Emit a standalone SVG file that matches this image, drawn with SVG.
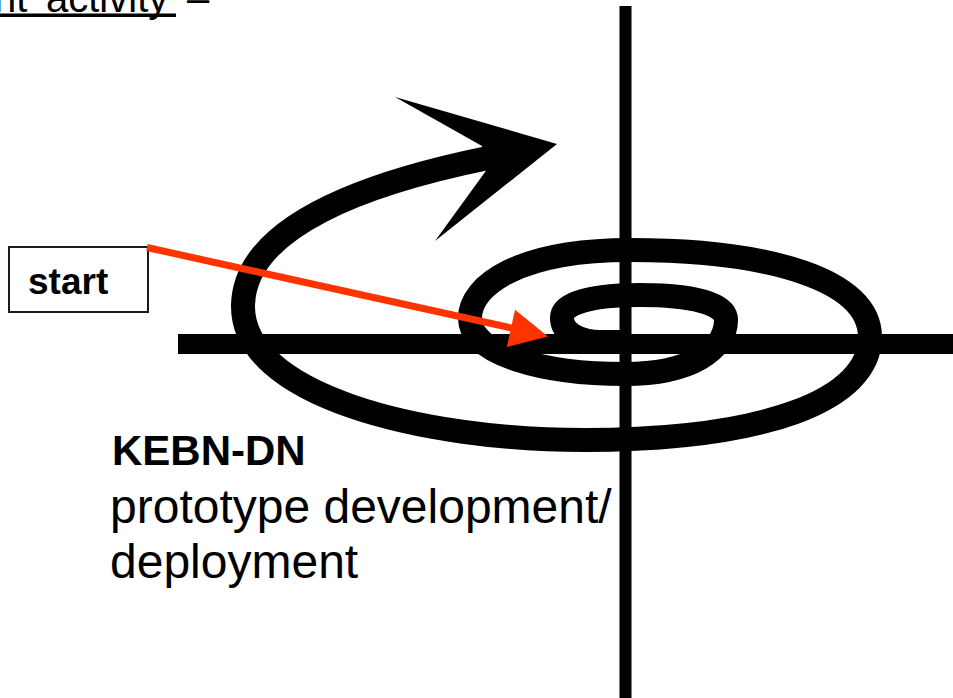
<svg xmlns="http://www.w3.org/2000/svg" width="953" height="698" viewBox="0 0 953 698">
  <style>
    .axis { stroke: #000; fill: none; stroke-linecap: butt; }
    .spiral { stroke: #000; fill: none; stroke-width: 24; stroke-linecap: butt; stroke-linejoin: round; }
    .lbl { font-family: "Liberation Sans", Arial, Helvetica, sans-serif; fill: #000; }
    .bold { font-weight: bold; }
    .box { fill: #fff; stroke: #1a1a1a; stroke-width: 2; }
    .pointer { stroke: #ff3300; stroke-width: 7; fill: none; }
  </style>

  <!-- heading fragment at the top edge -->
  <g id="heading">
    <text class="lbl" font-size="40" y="12"><tspan x="-6">nt</tspan><tspan x="46">activity</tspan><tspan x="187">–</tspan></text>
    <rect x="0" y="13.5" width="176" height="3.5" fill="#000"/>
  </g>

  <!-- quadrant axes -->
  <g id="axes">
    <line class="axis" x1="625.5" y1="6" x2="625.5" y2="698" stroke-width="12"/>
    <line class="axis" x1="178" y1="344" x2="953" y2="344" stroke-width="20"/>
  </g>

  <!-- spiral winding outwards, ending in a broad arrowhead -->
  <g id="spiral">
    <path class="spiral" d="M 488,158
      C 370,182 245,225 243,305
      C 241,395 420,440 585,440
      C 765,440 870,400 870,337
      C 870,280 770,250 630,250
      C 520,250 470,285 470,318
      C 470,355 545,374 625,374
      C 690,374 726,350 726,320
      C 726,303 690,295 640,295
      C 590,295 562,303 562,318
      C 562,333 580,342 600,342
      L 622,342"/>
    <polygon points="395,97 557,144 435,241 488,168 482,146" fill="#000"/>
  </g>

  <!-- start marker -->
  <g id="start">
    <rect class="box" x="9" y="247" width="139" height="65"/>
    <text class="lbl bold" font-size="37" x="28" y="294">start</text>
  </g>

  <!-- connector from start into the spiral centre -->
  <g id="connectors">
    <line class="pointer" x1="147" y1="247.5" x2="515" y2="328.8"/>
    <polygon points="548,336.5 515,309.8 506.8,347" fill="#ff3300"/>
  </g>

  <!-- caption -->
  <g id="caption">
    <text class="lbl bold" font-size="42" x="112" y="465">KEBN-DN</text>
    <text class="lbl" font-size="48" x="110" y="523">prototype development/</text>
    <text class="lbl" font-size="48" x="110" y="578">deployment</text>
  </g>
</svg>
